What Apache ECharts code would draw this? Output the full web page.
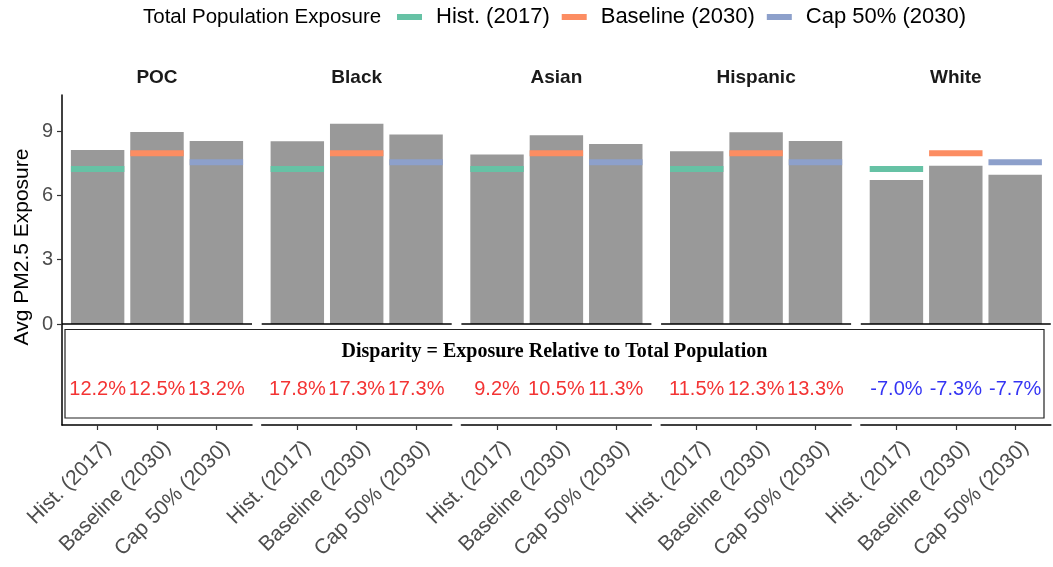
<!DOCTYPE html>
<html>
<head>
<meta charset="utf-8">
<title>Avg PM2.5 Exposure by Group</title>
<script src="https://cdn.jsdelivr.net/npm/echarts@6/dist/echarts.min.js"></script>
<style>
  html, body { margin: 0; padding: 0; background: #fff; }
  #chart { width: 1053px; height: 567px; }
</style>
</head>
<body>
<div id="chart"></div>
<script>
// Groups (facets) and scenarios (bars within each facet)
const groups = ['POC', 'Black', 'Asian', 'Hispanic', 'White'];
const scenarios = ['Hist. (2017)', 'Baseline (2030)', 'Cap 50% (2030)'];

// Average PM2.5 exposure per group, one value per scenario
const exposurePOC      = [8.11, 8.95, 8.54];
const exposureBlack    = [8.52, 9.34, 8.84];
const exposureAsian    = [7.90, 8.80, 8.39];
const exposureHispanic = [8.06, 8.94, 8.54];
const exposureWhite    = [6.72, 7.38, 6.96];

// Total population exposure per scenario (reference segments)
const totalExposure = [7.23, 7.96, 7.54];

// Disparity (% exposure relative to total population)
const disparityPOC      = [12.2, 12.5, 13.2];
const disparityBlack    = [17.8, 17.3, 17.3];
const disparityAsian    = [9.2, 10.5, 11.3];
const disparityHispanic = [11.5, 12.3, 13.3];
const disparityWhite    = [-7.0, -7.3, -7.7];

const yTicks = [0, 3, 6, 9];

const groupExposure = [exposurePOC, exposureBlack, exposureAsian, exposureHispanic, exposureWhite];
const groupDisparity = [disparityPOC, disparityBlack, disparityAsian, disparityHispanic, disparityWhite];

// Layout
const FONT = '"Liberation Sans", Arial, Helvetica, sans-serif';
const SERIF = '"Liberation Serif", "Times New Roman", serif';
const PANEL_LEFT = 62, PANEL_STEP = 199.7, PANEL_W = 190;
const PANEL_TOP = 95, PANEL_H = 330;
const X_MIN = 0.4, X_MAX = 3.6;
const Y_MIN = -4.71, Y_MAX = 10.68;
const LABEL_Y = -3.05;             // row of disparity labels, in axis units
const unitPx = PANEL_W / (X_MAX - X_MIN);
const BAR_W = 0.9 * unitPx;
const scenarioColors = ['#66C2A5', '#FC8D62', '#8DA0CB'];
const TEXT_GRAY = '#4D4D4D';

const grids = [], xAxes = [], yAxes = [], series = [], graphics = [];

groups.forEach((g, i) => {
  const left = PANEL_LEFT + i * PANEL_STEP;
  grids.push({ left: left, top: PANEL_TOP, width: PANEL_W, height: PANEL_H });

  xAxes.push({
    type: 'value', gridIndex: i, min: X_MIN, max: X_MAX,
    splitLine: { show: false },
    axisLine: { show: true, onZero: false, lineStyle: { color: '#000', width: 1.5 } },
    axisTick: { show: true, customValues: [1, 2, 3], length: 5, lineStyle: { color: '#333', width: 1.2 } },
    axisLabel: {
      show: true, customValues: [1, 2, 3],
      formatter: v => scenarios[Math.round(v) - 1] || '',
      rotate: 45, align: 'right', verticalAlign: 'top', margin: 9,
      padding: [4, 0, 0, 0],
      color: TEXT_GRAY, fontSize: 21, fontFamily: FONT
    }
  });

  const showY = i === 0;
  yAxes.push({
    type: 'value', gridIndex: i, min: Y_MIN, max: Y_MAX,
    show: showY,
    splitLine: { show: false },
    axisLine: { show: showY, onZero: false, lineStyle: { color: '#000', width: 1.5 } },
    axisTick: { show: showY, customValues: yTicks, length: 5, lineStyle: { color: '#333', width: 1.2 } },
    axisLabel: {
      show: showY, customValues: yTicks, margin: 9,
      color: TEXT_GRAY, fontSize: 20, fontFamily: FONT
    }
  });

  // Gray bars: group exposure
  series.push({
    type: 'bar', name: g, xAxisIndex: i, yAxisIndex: i,
    barWidth: BAR_W,
    itemStyle: { color: '#999999' },
    data: groupExposure[i].map((v, j) => [j + 1, v]),
    markLine: {
      silent: true, symbol: ['none', 'none'], label: { show: false },
      lineStyle: { color: '#000', width: 1.5, type: 'solid' },
      data: [{ yAxis: 0 }]
    },
    z: 2
  });

  // Total population exposure segments
  scenarios.forEach((s, j) => {
    series.push({
      type: 'scatter', name: s, xAxisIndex: i, yAxisIndex: i,
      symbol: 'rect', symbolSize: [BAR_W, 6],
      itemStyle: { color: scenarioColors[j], opacity: 1 },
      data: [[j + 1, totalExposure[j]]],
      z: 3
    });
  });

  // Disparity labels
  series.push({
    type: 'scatter', name: g + ' disparity', xAxisIndex: i, yAxisIndex: i,
    symbolSize: 1, itemStyle: { color: 'transparent' },
    data: groupDisparity[i].map((d, j) => ({
      value: [j + 1, LABEL_Y, d],
      label: { color: d >= 0 ? '#F00000' : '#0000F0' }
    })),
    label: {
      show: true, position: 'inside',
      formatter: p => p.value[2].toFixed(1) + '%',
      fontSize: 20, fontFamily: FONT
    },
    z: 4
  });

  // Facet strip title
  graphics.push({
    type: 'text', x: left + PANEL_W / 2, y: 78,
    style: { text: g, textAlign: 'center', textVerticalAlign: 'middle',
             font: 'bold 19px ' + FONT, fill: '#1A1A1A' }
  });
});

// Disparity box and its heading
graphics.push({
  type: 'rect', shape: { x: 65, y: 329.5, width: 979, height: 88.5 },
  style: { fill: 'none', stroke: '#222', lineWidth: 1.2 }, z: 1
});
graphics.push({
  type: 'text', x: 554.5, y: 352,
  style: { text: 'Disparity = Exposure Relative to Total Population',
           textAlign: 'center', textVerticalAlign: 'middle',
           font: 'bold 20px ' + SERIF, fill: '#000' }
});
// Y axis title
graphics.push({
  type: 'text', x: 22, y: 247, rotation: Math.PI / 2,
  style: { text: 'Avg PM2.5 Exposure', textAlign: 'center', textVerticalAlign: 'middle',
           font: '21px ' + FONT, fill: '#000' }
});
// Legend title
graphics.push({
  type: 'text', x: 143, y: 17,
  style: { text: 'Total Population Exposure', textAlign: 'left', textVerticalAlign: 'middle',
           font: '20.5px ' + FONT, fill: '#000' }
});

const chart = echarts.init(document.getElementById('chart'), null, { renderer: 'canvas' });
chart.setOption({
  animation: false,
  backgroundColor: '#fff',
  grid: grids,
  xAxis: xAxes,
  yAxis: yAxes,
  legend: {
    data: scenarios, left: 392, top: 1,
    icon: 'rect', itemWidth: 25, itemHeight: 6, itemGap: 12,
    textStyle: { fontSize: 22, color: '#000', fontFamily: FONT, padding: [0, 0, 0, 9] }
  },
  graphic: graphics,
  series: series
});
</script>
</body>
</html>
